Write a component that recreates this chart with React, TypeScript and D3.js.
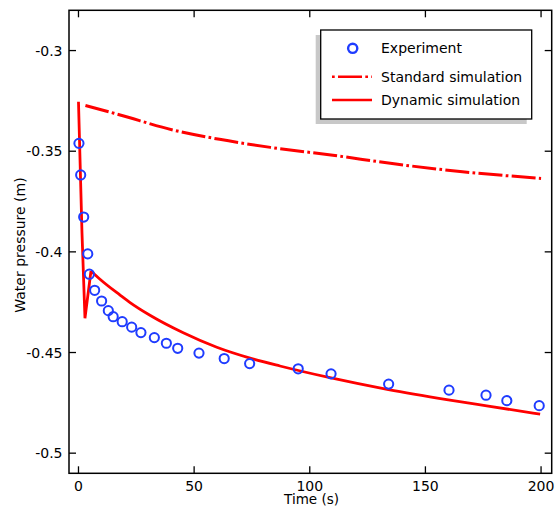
import React from "react";
import * as d3 from "d3";

const expTime = [0.2, 0.95, 2.25, 4.0, 4.7, 7.0, 10.0, 12.9, 15.0, 18.9, 23.0, 27.0, 32.8, 38.0, 42.9, 52.1, 63.0, 74.0, 95.0, 109.2, 134.1, 160.2, 176.2, 185.2, 199.2];
const expPressure = [-0.3461, -0.3618, -0.3827, -0.401, -0.4111, -0.4191, -0.4244, -0.4292, -0.4322, -0.4347, -0.4374, -0.4401, -0.4426, -0.4454, -0.4479, -0.4503, -0.453, -0.4555, -0.4581, -0.4606, -0.4657, -0.4687, -0.4712, -0.4739, -0.4764];

const stdTime = [3, 7, 18, 41, 61, 83, 110, 138, 166, 200];
const stdPressure = [-0.3273, -0.3285, -0.332, -0.3395, -0.3441, -0.3481, -0.352, -0.3565, -0.3602, -0.3635];

const dynDropTime = [0, 1.5, 2.8, 5.4];
const dynDropPressure = [-0.3254, -0.39, -0.433, -0.4095];
const dynDecayTime = [5.4, 9.3, 18, 22.3, 30.9, 45.3, 59.8, 74.2, 87.1, 108.7, 134, 159.9, 176.5, 199.6];
const dynDecayPressure = [-0.4095, -0.4136, -0.4215, -0.4252, -0.4315, -0.4402, -0.4474, -0.4528, -0.4567, -0.4625, -0.4684, -0.4735, -0.4765, -0.4806];

const xTicks = [0, 50, 100, 150, 200];
const yTicks = [-0.3, -0.35, -0.4, -0.45, -0.5];
const legendLabels = ["Experiment", "Standard simulation", "Dynamic simulation"];

const W = 555;
const H = 506;
const L = 69, R = 551.7, T = 10.3, B = 473.3;
const FONT = "DejaVu Sans, sans-serif";
const RED = "#ff0000";
const BLUE = "#1f3cff";
const FS = 14;

export default function App() {
  const x = d3.scaleLinear().domain([-4.1, 204.6]).range([L, R]);
  const y = d3.scaleLinear().domain([-0.28, -0.51]).range([T, B]);

  const lin = d3.line<[number, number]>().x((d) => x(d[0])).y((d) => y(d[1])).curve(d3.curveLinear);
  const mono = d3.line<[number, number]>().x((d) => x(d[0])).y((d) => y(d[1])).curve(d3.curveMonotoneX);

  const stdPts = stdTime.map((t, i) => [t, stdPressure[i]] as [number, number]);
  const dropPts = dynDropTime.map((t, i) => [t, dynDropPressure[i]] as [number, number]);
  const decayPts = dynDecayTime.map((t, i) => [t, dynDecayPressure[i]] as [number, number]);
  const dynPath = (lin(dropPts) || "") + (mono(decayPts) || "");

  const tickLen = 7;
  const lx = 320.7, ly = 30, lw = 211, lh = 89;

  return (
    <svg width={W} height={H} style={{ position: "absolute", left: 0, top: 0, background: "#fff" }} fontFamily={FONT}>
      <rect x={0} y={0} width={W} height={H} fill="#fff" />
      <defs>
        <clipPath id="plotclip">
          <rect x={L} y={T} width={R - L} height={B - T} />
        </clipPath>
      </defs>

      {xTicks.map((t) => (
        <g key={"xt" + t}>
          <line x1={x(t)} x2={x(t)} y1={B} y2={B - tickLen} stroke="#000" strokeWidth={1.3} />
          <line x1={x(t)} x2={x(t)} y1={T} y2={T + tickLen} stroke="#000" strokeWidth={1.3} />
          <text x={x(t)} y={490.5} fontSize={FS} textAnchor="middle" fill="#000">{t}</text>
        </g>
      ))}
      {yTicks.map((v) => (
        <g key={"yt" + v}>
          <line x1={L} x2={L + tickLen} y1={y(v)} y2={y(v)} stroke="#000" strokeWidth={1.3} />
          <line x1={R} x2={R - tickLen} y1={y(v)} y2={y(v)} stroke="#000" strokeWidth={1.3} />
          <text x={62.5} y={y(v) + 5} fontSize={FS} textAnchor="end" fill="#000">{String(v)}</text>
        </g>
      ))}

      <g clipPath="url(#plotclip)">
        <path d={mono(stdPts) || ""} fill="none" stroke={RED} strokeWidth={3} strokeDasharray="24 3.3 2.7 3.3" />
        <path d={dynPath} fill="none" stroke={RED} strokeWidth={2.8} strokeLinejoin="miter" />
        {expTime.map((t, i) => (
          <circle key={"c" + i} cx={x(t)} cy={y(expPressure[i])} r={4.6} fill="none" stroke={BLUE} strokeWidth={2} />
        ))}
      </g>

      <rect x={L} y={T} width={R - L} height={B - T} fill="none" stroke="#000" strokeWidth={1.5} />

      <text x={311.5} y={504} fontSize={13.5} textAnchor="middle" fill="#000">Time (s)</text>
      <text transform={`translate(25, 245) rotate(-90)`} fontSize={FS} textAnchor="middle" fill="#000">Water pressure (m)</text>

      <rect x={lx - 5} y={ly + 5} width={lw} height={lh} fill="#c8c8c8" />
      <rect x={lx} y={ly} width={lw} height={lh} fill="#fff" stroke="#000" strokeWidth={1.3} />
      <circle cx={352.7} cy={48.3} r={4.6} fill="none" stroke={BLUE} strokeWidth={2.4} />
      <text x={381} y={53.3} fontSize={FS} fill="#000">{legendLabels[0]}</text>
      <line x1={332} x2={372} y1={76.7} y2={76.7} stroke={RED} strokeWidth={2.4} strokeDasharray="2.7 3.3 24 3.3" />
      <text x={381} y={82} fontSize={FS} fill="#000">{legendLabels[1]}</text>
      <line x1={332} x2={372} y1={100} y2={100} stroke={RED} strokeWidth={2.4} />
      <text x={381} y={105.3} fontSize={FS} fill="#000">{legendLabels[2]}</text>
    </svg>
  );
}
